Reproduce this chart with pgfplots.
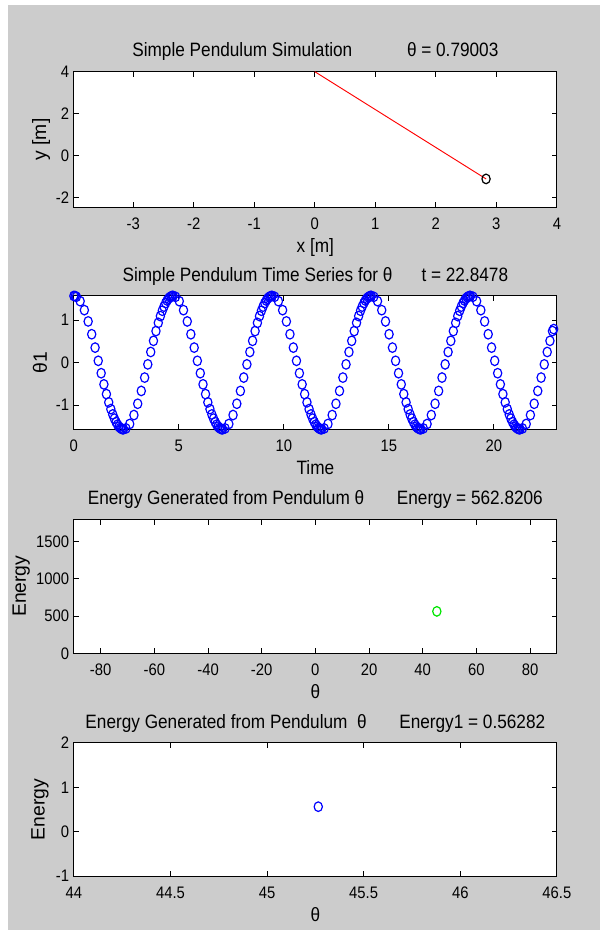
\documentclass[border=0pt]{standalone}
\usepackage{fontspec}
\setmainfont{Liberation Sans}[FakeStretch=0.89]
\newfontfamily\rotfont{Liberation Sans}
\usepackage{pgfplots}
\pgfplotsset{compat=1.18}
\definecolor{figgrey}{HTML}{CCCCCC}
\definecolor{mblue}{RGB}{0,0,255}
\definecolor{mgreen}{RGB}{0,230,0}
\definecolor{mred}{RGB}{255,0,0}
\newcommand{\lblfont}{\fontsize{14.5}{17}\selectfont}
\pgfplotsset{
  every axis title/.style={at={(0.5,1)},anchor=base,yshift=11pt,font=\lblfont},
  every axis x label/.style={at={(axis description cs:0.5,0)},anchor=base,yshift=-33.75pt,font=\lblfont},
  every axis y label/.style={at={(axis description cs:-0.068,0.5)},rotate=90,anchor=center,font=\rotfont\lblfont},
  mlab/.style={
    scale only axis,width=362.25pt,anchor=south west,
    axis background/.style={fill=white},
    axis line style={black,line width=0.75pt},
    tick style={black,line width=0.75pt},major tick length=4pt,
    tick align=inside,clip mode=individual,
    tick label style={font=\fontsize{12.5}{14}\selectfont},
    /pgf/number format/assume math mode=true,
    /pgf/number format/1000 sep={},
    xticklabel style={anchor=base,yshift=-17pt},
  },
  circ/.style={only marks,mark=o,mark size=3.6pt,mark options={xscale=0.86,line width=0.9pt}},
}
\begin{document}
\begin{tikzpicture}
\useasboundingbox (0,0) rectangle (450pt,701.25pt);
\fill[white] (0,0) rectangle (450pt,701.25pt);
\fill[figgrey] (5.8pt,3.75pt) rectangle (450pt,697.5pt);

% pendulum position
\begin{axis}[mlab,at={(55.4pt,545.8pt)},height=101.7pt,
  xmin=-3.98,xmax=4,ymin=-2.46,ymax=4,
  xtick={-3,-2,-1,0,1,2,3,4},ytick={-2,0,2,4},
  title={Simple Pendulum Simulation\hspace{41pt}θ = 0.79003},
  xlabel={x [m]},ylabel={y [m]}]
\addplot[mred,line width=0.7pt] coordinates {(0,4) (2.83,-1.11)};
\addplot[circ,black] coordinates {(2.83,-1.11)};
\end{axis}

% time series
\begin{axis}[mlab,at={(55.4pt,379.3pt)},height=100pt,
  xmin=0,xmax=23,ymin=-1.571,ymax=1.571,
  xtick={0,5,10,15,20},ytick={-1,0,1},
  title={Simple Pendulum Time Series for θ\hspace{21.75pt}t = 22.8478},
  xlabel={Time},ylabel={θ1},
  every axis y label/.append style={at={(axis description cs:-0.070,0.5)}}]
\addplot[circ,mblue] coordinates {
(0,1.571)(0.06,1.566)(0.12,1.551)(0.30,1.447)(0.50,1.236)(0.68,0.970)(0.85,0.668)(1.01,0.353)(1.16,0.042)(1.30,-0.250)(1.43,-0.513)(1.55,-0.743)(1.66,-0.937)(1.76,-1.096)(1.85,-1.222)(1.93,-1.320)(2.01,-1.403)(2.08,-1.463)(2.15,-1.510)(2.21,-1.540)(2.27,-1.560)(2.32,-1.569)(2.36,-1.571)
(2.48,-1.551)(2.66,-1.447)(2.86,-1.236)(3.04,-0.970)(3.21,-0.668)(3.37,-0.353)(3.52,-0.042)(3.66,0.250)(3.79,0.513)(3.91,0.743)(4.02,0.937)(4.12,1.096)(4.21,1.222)(4.29,1.320)(4.37,1.403)(4.44,1.463)(4.51,1.510)(4.57,1.540)(4.63,1.560)(4.68,1.569)(4.72,1.571)
(4.84,1.551)(5.02,1.447)(5.22,1.236)(5.40,0.970)(5.57,0.668)(5.73,0.353)(5.88,0.042)(6.02,-0.250)(6.15,-0.513)(6.27,-0.743)(6.38,-0.937)(6.48,-1.096)(6.57,-1.222)(6.65,-1.320)(6.73,-1.403)(6.80,-1.463)(6.87,-1.510)(6.93,-1.540)(6.99,-1.560)(7.04,-1.569)(7.08,-1.571)
(7.20,-1.551)(7.38,-1.447)(7.58,-1.236)(7.76,-0.970)(7.93,-0.668)(8.09,-0.353)(8.24,-0.042)(8.38,0.250)(8.51,0.513)(8.63,0.743)(8.74,0.937)(8.84,1.096)(8.93,1.222)(9.01,1.320)(9.09,1.403)(9.16,1.463)(9.23,1.510)(9.29,1.540)(9.35,1.560)(9.40,1.569)(9.44,1.571)
(9.56,1.551)(9.74,1.447)(9.94,1.236)(10.12,0.970)(10.29,0.668)(10.45,0.353)(10.60,0.042)(10.74,-0.250)(10.87,-0.513)(10.99,-0.743)(11.10,-0.937)(11.20,-1.096)(11.29,-1.222)(11.37,-1.320)(11.45,-1.403)(11.52,-1.463)(11.59,-1.510)(11.65,-1.540)(11.71,-1.560)(11.76,-1.569)(11.80,-1.571)
(11.92,-1.551)(12.10,-1.447)(12.30,-1.236)(12.48,-0.970)(12.65,-0.668)(12.81,-0.353)(12.96,-0.042)(13.10,0.250)(13.23,0.513)(13.35,0.743)(13.46,0.937)(13.56,1.096)(13.65,1.222)(13.73,1.320)(13.81,1.403)(13.88,1.463)(13.95,1.510)(14.01,1.540)(14.07,1.560)(14.12,1.569)(14.16,1.571)
(14.28,1.551)(14.46,1.447)(14.66,1.236)(14.84,0.970)(15.01,0.668)(15.17,0.353)(15.32,0.042)(15.46,-0.250)(15.59,-0.513)(15.71,-0.743)(15.82,-0.937)(15.92,-1.096)(16.01,-1.222)(16.09,-1.320)(16.17,-1.403)(16.24,-1.463)(16.31,-1.510)(16.37,-1.540)(16.43,-1.560)(16.48,-1.569)(16.52,-1.571)
(16.64,-1.551)(16.82,-1.447)(17.02,-1.236)(17.20,-0.970)(17.37,-0.668)(17.53,-0.353)(17.68,-0.042)(17.82,0.250)(17.95,0.513)(18.07,0.743)(18.18,0.937)(18.28,1.096)(18.37,1.222)(18.45,1.320)(18.53,1.403)(18.60,1.463)(18.67,1.510)(18.73,1.540)(18.79,1.560)(18.84,1.569)(18.88,1.571)
(19.00,1.551)(19.18,1.447)(19.38,1.236)(19.56,0.970)(19.73,0.668)(19.89,0.353)(20.04,0.042)(20.18,-0.250)(20.31,-0.513)(20.43,-0.743)(20.54,-0.937)(20.64,-1.096)(20.73,-1.222)(20.81,-1.320)(20.89,-1.403)(20.96,-1.463)(21.03,-1.510)(21.09,-1.540)(21.15,-1.560)(21.20,-1.569)(21.24,-1.571)
(21.36,-1.551)(21.54,-1.447)(21.74,-1.236)(21.92,-0.970)(22.09,-0.668)(22.25,-0.353)(22.40,-0.042)(22.54,0.250)(22.67,0.513)(22.79,0.743)(22.8478,0.790)
};
\end{axis}

% energy in degrees
\begin{axis}[mlab,at={(55.4pt,211.3pt)},height=100.5pt,
  xmin=-90,xmax=90,ymin=0,ymax=1800,
  xtick={-80,-60,-40,-20,0,20,40,60,80},ytick={0,500,1000,1500},
  title={Energy Generated from Pendulum θ\hspace{24.5pt}Energy = 562.8206},
  xlabel={θ},ylabel={Energy},
  every axis y label/.append style={at={(axis description cs:-0.109,0.5)}}]
\addplot[circ,mgreen] coordinates {(45.27,562.82)};
\end{axis}

% energy, scaled
\begin{axis}[mlab,at={(55.4pt,44.25pt)},height=99.75pt,
  xmin=44,xmax=46.5,ymin=-1,ymax=2,
  xtick={44,44.5,45,45.5,46,46.5},ytick={-1,0,1,2},
  xticklabel style={/pgf/number format/.cd,fixed,precision=1},
  title={Energy Generated from Pendulum\ \ θ\hspace{24.5pt}Energy1 = 0.56282},
  xlabel={θ},ylabel={Energy},
  every axis y label/.append style={at={(axis description cs:-0.070,0.5)}}]
\addplot[circ,mblue] coordinates {(45.265,0.56282)};
\end{axis}
\end{tikzpicture}
\end{document}
